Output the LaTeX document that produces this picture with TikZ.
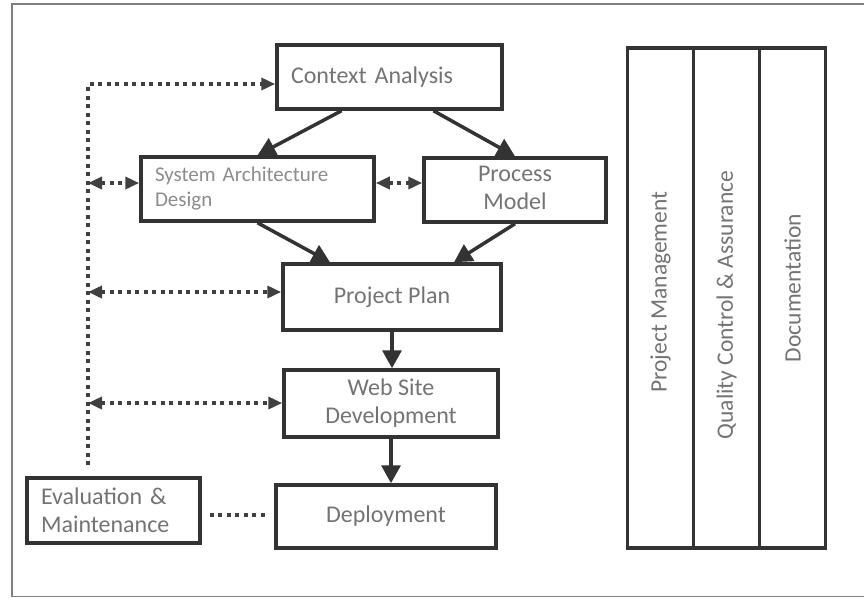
\documentclass[tikz,border=0pt]{standalone}
\usepackage{fontspec}
\setmainfont{Carlito}
\usetikzlibrary{arrows.meta,calc}

\tikzset{
  dothead/.tip={Triangle[length=14pt,width=12pt]},
  bighead/.tip={Triangle[length=18pt,width=19pt]},
  box/.style={draw=black!80, line width=3.5pt, text=black!55, inner sep=0pt,
    font=\fontsize{24}{28}\selectfont},
  column/.style={draw=black!80, line width=3.5pt, text=black!55, inner sep=0pt,
    rotate=90, minimum width=500pt, minimum height=66pt,
    font=\fontsize{23.5}{28}\selectfont},
  flow/.style={draw=black!80, line width=3.5pt, -{bighead}},
  dotlink/.style={draw=black!75, line width=4.5pt, dash pattern=on 4pt off 4.5pt},
}

\begin{document}
\begin{tikzpicture}[x=1pt,y=-1pt]
    \useasboundingbox (0,0) rectangle (864,598);
    \draw[black!50, line width=1.5pt] (864,4) -- (12,4) -- (12,596.5) -- (864,596.5);

    % main flow
    \node[box, minimum width=225pt, minimum height=64pt, text width=197pt, align=left]
        (ca) at (389.5,77) {Context Analysis};
    \node[box, minimum width=233pt, minimum height=64pt, text width=205pt, align=left,
        text=black!45, font=\fontsize{21}{25}\selectfont]
        (sad) at (257.5,189) {System Architecture\\Design};
    \node[box, minimum width=182pt, minimum height=64pt]
        (pm) at (515,190) {\begin{tabular}{@{}c@{}}Process\\Model\end{tabular}\hspace{34pt}};
    \node[box, minimum width=218pt, minimum height=66pt] (pp) at (392,297) {Project Plan};
    \node[box, minimum width=214pt, minimum height=67pt, align=center]
        (wsd) at (391,403.5) {Web Site\\Development};
    \node[box, minimum width=220pt, minimum height=63pt] (dep) at (386,516.5) {Deployment};
    \node[box, minimum width=173pt, minimum height=65pt, text width=145pt, align=left]
        (em) at (113.5,510.5) {Evaluation \&\\Maintenance};

    % side columns
    \node[column] (mgmt) at (660.5,298) {\hspace*{12pt}Project Management};
    \node[column] (qca) at (726.5,298) {Quality Control \& Assurance\hspace*{14pt}};
    \node[column] (doc) at (792.5,298) {\hspace*{20pt}Documentation};

    \draw[flow] ([xshift=-48pt]ca.south) -- (sad.north);
    \draw[flow] ([xshift=44pt]ca.south) -- (pm.north);
    \draw[flow] (sad.south) -- ([xshift=-62pt]pp.north);
    \draw[flow] (pm.south) -- ([xshift=62pt]pp.north);
    \draw[flow] (pp.south) -- (pp.south |- wsd.north);
    \draw[flow] (wsd.south) -- (wsd.south |- dep.north);

    % feedback lines
    \coordinate (top) at (88,84);
    \coordinate (bot) at (88,465);
    \coordinate (l1) at (88,183);
    \coordinate (l2) at (88,292);
    \coordinate (l3) at (88,403);
    \coordinate (l4) at (0,515);
    \draw[dotlink, -{dothead}] (bot) -- (top) -- (top -| ca.west);
    \draw[dotlink, {dothead}-{dothead}] (l1) -- (l1 -| sad.west);
    \draw[dotlink, {dothead}-{dothead}] (sad.east |- l1) -- (pm.west |- l1);
    \draw[dotlink, {dothead}-{dothead}] (l2) -- (l2 -| pp.west);
    \draw[dotlink, {dothead}-{dothead}] (l3) -- (l3 -| wsd.west);
    \draw[dotlink, shorten <=8pt, shorten >=8pt] (em.east |- l4) -- (dep.west |- l4);
\end{tikzpicture}
\end{document}
